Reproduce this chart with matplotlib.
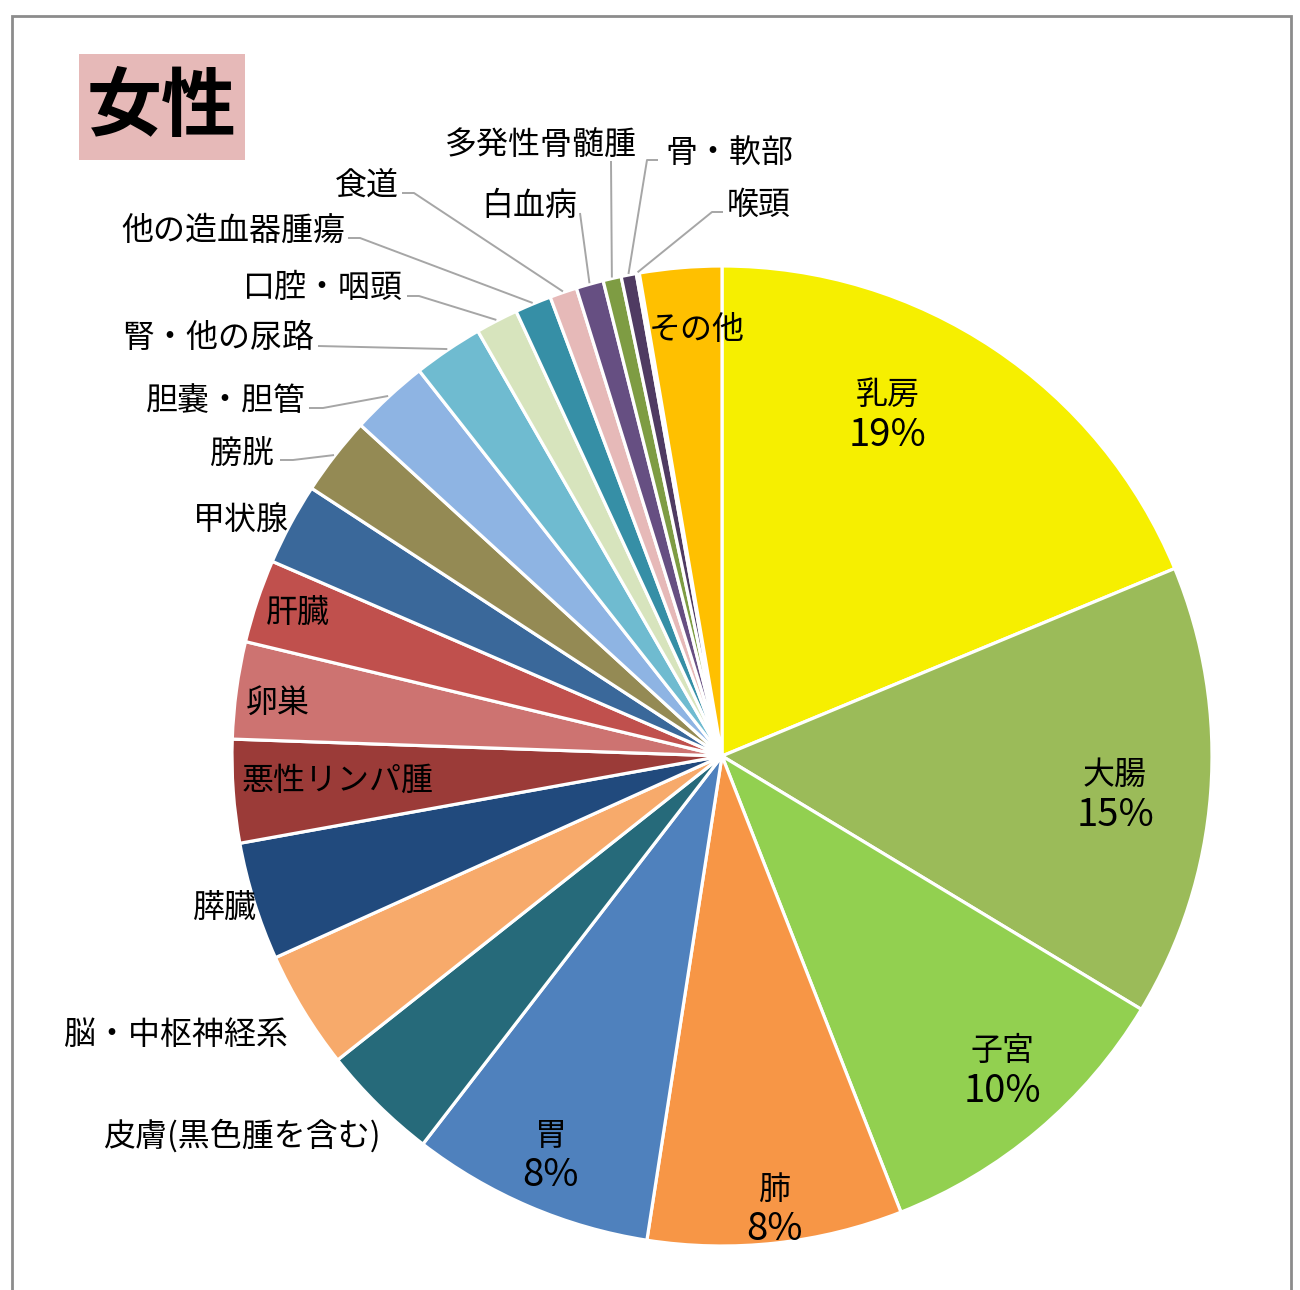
import numpy as np
import matplotlib
matplotlib.use("Agg")
import matplotlib.pyplot as plt
from matplotlib.patches import Rectangle

plt.rcParams['font.family'] = ['Noto Sans CJK JP', 'DejaVu Sans']

# ---- data ----
categories = ['乳房', '大腸', '子宮', '肺', '胃', '皮膚(黒色腫を含む)', '脳・中枢神経系', '膵臓',
              '悪性リンパ腫', '卵巣', '肝臓', '甲状腺', '膀胱', '胆嚢・胆管', '腎・他の尿路',
              '口腔・咽頭', '他の造血器腫瘍', '食道', '白血病', '多発性骨髄腫', '骨・軟部', '喉頭', 'その他']
values = [18.75, 14.9, 10.4, 8.4, 8.0, 3.9, 3.9, 3.9,
          3.4, 3.2, 2.75, 2.7, 2.6, 2.6, 2.3,
          1.4, 1.2, 0.9, 0.9, 0.6, 0.5, 0.1, 2.7]
colors = ['#F6EF00', '#9BBB59', '#92D050', '#F79646', '#4F81BD', '#266A7A', '#F7AA6B', '#214A7D',
          '#9B3B38', '#CD7371', '#C0504D', '#3A689A', '#948A54', '#8EB4E3', '#6FBBD0',
          '#D7E4BD', '#368FA6', '#E6B9B8', '#664F82', '#7E9C43', '#4F3B62', '#3F3151', '#FFC000']
title = '女性'

W, H = 1300, 1290
def Y(y):
    return H - y

fig = plt.figure(figsize=(W / 100, H / 100), dpi=100)
ax = fig.add_axes([0, 0, 1, 1])

cx, cy, R = 722, 756, 490
wedges, _ = ax.pie(values, colors=colors, startangle=90, counterclock=False,
                   center=(cx, Y(cy)), radius=R,
                   wedgeprops=dict(edgecolor='white', linewidth=2.3))
ax.set_xlim(0, W)
ax.set_ylim(0, H)
ax.set_aspect('auto')
ax.axis('off')

# frame
ax.add_patch(Rectangle((12, Y(1300)), 1279, 1300 - 16, fill=False,
                       edgecolor='#8C8C8C', linewidth=2.0))
# title box
ax.add_patch(Rectangle((79, Y(160)), 166, 106, facecolor='#E6B9B8', edgecolor='none'))
ax.text(162, Y(108), title, fontsize=54, fontweight='bold', ha='center', va='center', color='black')

FS = 23
DY = 3  # small vertical offset of text centre
lc = '#A6A6A6'

# inside labels (name + percent)
inside = {'乳房': (888, 412), '大腸': (1115, 792), '子宮': (1002, 1068),
          '肺': (775, 1207), '胃': (551, 1153)}
for name, (x, y) in inside.items():
    i = categories.index(name)
    ax.text(x, Y(y - 20 + DY), name, fontsize=FS, ha='center', va='center')
    ax.text(x, Y(y + 20 + DY), f'{round(values[i]):.0f}%', fontsize=FS + 4.5, ha='center', va='center')

# name-only labels: (x, y, ha)
plain = {'その他': (697, 327, 'center'), '悪性リンパ腫': (338, 778, 'center'),
         '卵巣': (278, 700, 'center'), '肝臓': (298, 610, 'center'),
         '甲状腺': (289, 517, 'right'), '膵臓': (257, 905, 'right'),
         '脳・中枢神経系': (288, 1032, 'right'), '皮膚(黒色腫を含む)': (381, 1133, 'right')}
for name, (x, y, ha) in plain.items():
    ax.text(x, Y(y + DY), name, fontsize=FS, ha=ha, va='center')

# labels with leader lines: text (x, y, ha), leader start points (pixel)
leader = {
    '膀胱': ((274, 452, 'right'), [(280, 460), (293, 460)]),
    '胆嚢・胆管': ((306, 398, 'right'), [(309, 408), (323, 408)]),
    '腎・他の尿路': ((314, 335, 'right'), [(318, 346)]),
    '口腔・咽頭': ((403, 285, 'right'), [(407, 296), (419, 296)]),
    '他の造血器腫瘍': ((345, 228, 'right'), [(348, 238), (360, 238)]),
    '食道': ((399, 183, 'right'), [(402, 193), (414, 193)]),
    '白血病': ((529, 203, 'center'), [(580, 213)]),
    '多発性骨髄腫': ((541, 143, 'center'), [(611, 161)]),
    '骨・軟部': ((665, 150, 'left'), [(658, 160), (647, 160)]),
    '喉頭': ((727, 202, 'left'), [(723, 212), (712, 212)]),
}
for name, ((x, y, ha), pts) in leader.items():
    ax.text(x, Y(y + DY), name, fontsize=FS, ha=ha, va='center')
    w = wedges[categories.index(name)]
    mid = np.deg2rad((w.theta1 + w.theta2) / 2)
    ex, ey = cx + (R + 1) * np.cos(mid), Y(cy) + (R + 1) * np.sin(mid)
    xs = [p[0] for p in pts] + [ex]
    ys = [Y(p[1]) for p in pts] + [ey]
    ax.plot(xs, ys, color=lc, linewidth=1.4, solid_capstyle='butt')

fig.savefig('out.png', dpi=100, facecolor='white')
